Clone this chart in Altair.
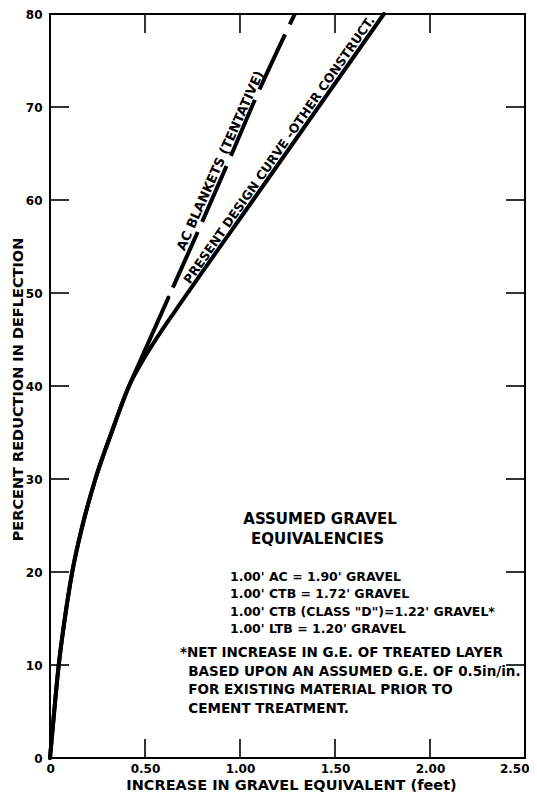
import altair as alt
import pandas as pd

# ---------------- data ----------------
# common lower part of both curves
common_x = [0.0, 0.022, 0.046, 0.078, 0.117, 0.171, 0.239, 0.324, 0.416]
common_y = [0, 5, 10, 15, 20, 25, 30, 35, 40]
# present design curve - other construction (upper branch)
present_x = [0.47, 0.544, 0.711, 1.069, 1.413, 1.757]
present_y = [42.1, 44.6, 49.6, 60.0, 70.0, 80.0]
# AC blankets (tentative): solid start, then dashed
ac_solid_x = [0.475, 0.623]
ac_solid_y = [42.7, 49.5]
ac_dash_x = [0.623, 0.789, 0.947, 1.079, 1.288]
ac_dash_y = [49.5, 57.1, 64.5, 70.8, 80.0]

x_label_values = [0, 0.5, 1.0, 1.5, 2.0, 2.5]
y_label_values = [0, 10, 20, 30, 40, 50, 60, 70, 80]
inner_x_ticks = [0.5, 1.0, 1.5, 2.0]
inner_y_ticks = [10, 20, 30, 40, 50, 60, 70]

x_title = "INCREASE IN GRAVEL EQUIVALENT (feet)"
y_title = "PERCENT REDUCTION IN DEFLECTION"

curve_labels = ["AC BLANKETS (TENTATIVE)", "PRESENT DESIGN CURVE -OTHER CONSTRUCT."]
heading_lines = ["ASSUMED GRAVEL", "EQUIVALENCIES"]
equiv_lines = [
    "1.00' AC = 1.90' GRAVEL",
    "1.00' CTB = 1.72' GRAVEL",
    "1.00' CTB (CLASS \"D\")=1.22' GRAVEL*",
    "1.00' LTB = 1.20' GRAVEL",
]
note_lines = [
    "*NET INCREASE IN G.E. OF TREATED LAYER",
    "BASED UPON AN ASSUMED G.E. OF 0.5in/in.",
    "FOR EXISTING MATERIAL PRIOR TO",
    "CEMENT TREATMENT.",
]

# ---------------- annotation layout (data units) ----------------
curve_label_x = [0.933, 1.239]
curve_label_y = [63.9, 64.9]
heading_x = [1.421, 1.408]
heading_y = [25.74, 23.50]
equiv_x = [0.947, 0.947, 0.947, 0.947]
equiv_y = [19.44, 17.62, 15.73, 13.89]
note_x = [0.684, 0.728, 0.728, 0.728]
note_y = [11.25, 9.29, 7.26, 5.23]

# ---------------- build ----------------
W, H = 475, 744
FONT = "DejaVu Sans"
TICK = 19

solid_rows = []
for i, (x, y) in enumerate(zip(common_x + present_x, common_y + present_y)):
    solid_rows.append({"series": "present", "i": i, "x": x, "y": y})
for i, (x, y) in enumerate(zip(common_x + ac_solid_x, common_y + ac_solid_y)):
    solid_rows.append({"series": "ac", "i": i, "x": x, "y": y})
solid_df = pd.DataFrame(solid_rows)
dash_df = pd.DataFrame({"i": list(range(len(ac_dash_x))), "x": ac_dash_x, "y": ac_dash_y})

xscale = alt.Scale(domain=[0, 2.5], nice=False, zero=False)
yscale = alt.Scale(domain=[0, 80], nice=False, zero=False)

xaxis = alt.Axis(
    values=x_label_values,
    labelExpr="datum.value == 0 ? '0' : format(datum.value, '.2f')",
    ticks=False, domain=False, grid=False,
    labelFlush=True, labelFlushOffset=4,
    labelFont=FONT, labelFontWeight="bold", labelFontSize=12, labelPadding=5,
    labelColor="black",
    title=x_title, titleFont=FONT, titleFontWeight="bold", titleFontSize=14.5,
    titleColor="black", titleX=241, titleY=31, titleBaseline="alphabetic",
    titleAlign="center",
)
yaxis = alt.Axis(
    values=y_label_values, format="d",
    ticks=False, domain=False, grid=False,
    labelFont=FONT, labelFontWeight="bold", labelFontSize=12, labelPadding=8,
    labelColor="black",
    title=y_title, titleFont=FONT, titleFontWeight="bold", titleFontSize=14.5,
    titleColor="black", titleAngle=270, titleX=-28, titleY=375,
    titleBaseline="alphabetic", titleAlign="center",
)

X = alt.X("x:Q", scale=xscale, axis=xaxis)
Y = alt.Y("y:Q", scale=yscale, axis=yaxis)

solid = alt.Chart(solid_df).mark_line(
    interpolate="monotone", color="black", strokeWidth=4, strokeCap="round"
).encode(x=X, y=Y, detail="series:N", order="i:Q")

dashed = alt.Chart(dash_df).mark_line(
    interpolate="monotone", color="black", strokeWidth=4, strokeCap="butt",
    strokeDash=[61, 11], strokeDashOffset=61,
).encode(x=X, y=Y, order="i:Q")

xt_df = pd.DataFrame({"x": inner_x_ticks})
yt_df = pd.DataFrame({"y": inner_y_ticks})
rule_style = dict(color="black", strokeWidth=1.6)
ticks_bottom = alt.Chart(xt_df).mark_rule(**rule_style).encode(
    x=X, y=alt.value(H - TICK), y2=alt.value(H))
ticks_top = alt.Chart(xt_df).mark_rule(**rule_style).encode(
    x=X, y=alt.value(0), y2=alt.value(TICK))
ticks_left = alt.Chart(yt_df).mark_rule(**rule_style).encode(
    y=Y, x=alt.value(0), x2=alt.value(TICK))
ticks_right = alt.Chart(yt_df).mark_rule(**rule_style).encode(
    y=Y, x=alt.value(W - TICK), x2=alt.value(W))

def label_layer(text, x, y, angle, size):
    df = pd.DataFrame({"x": [x], "y": [y], "t": [text]})
    return alt.Chart(df).mark_text(
        font=FONT, fontWeight="bold", fontSize=size, angle=angle,
        align="center", baseline="alphabetic", dy=-3.5, color="black",
    ).encode(x=X, y=Y, text="t:N")

ac_label = label_layer(curve_labels[0], curve_label_x[0], curve_label_y[0], 294, 13)
pr_label = label_layer(curve_labels[1], curve_label_x[1], curve_label_y[1], 305, 12.5)

def block(lines, xs, ys, size, align):
    df = pd.DataFrame({"x": xs, "y": ys, "t": lines})
    return alt.Chart(df).mark_text(
        font=FONT, fontWeight="bold", fontSize=size, align=align,
        baseline="middle", color="black",
    ).encode(x=X, y=Y, text="t:N")

heading = block(heading_lines, heading_x, heading_y, 15, "center")
equiv = block(equiv_lines, equiv_x, equiv_y, 12.5, "left")
note = block(note_lines, note_x, note_y, 13.5, "left")

chart = alt.layer(
    solid, dashed, ticks_bottom, ticks_top, ticks_left, ticks_right,
    ac_label, pr_label, heading, equiv, note,
).properties(
    width=W, height=H,
    autosize=alt.AutoSizeParams(type="none"),
    padding={"left": 42, "top": 6, "right": 4, "bottom": 34},
    background="white",
).configure_view(
    stroke="black", strokeWidth=2
)

chart.save("out.html", embed_options={"renderer": "svg", "actions": False})
